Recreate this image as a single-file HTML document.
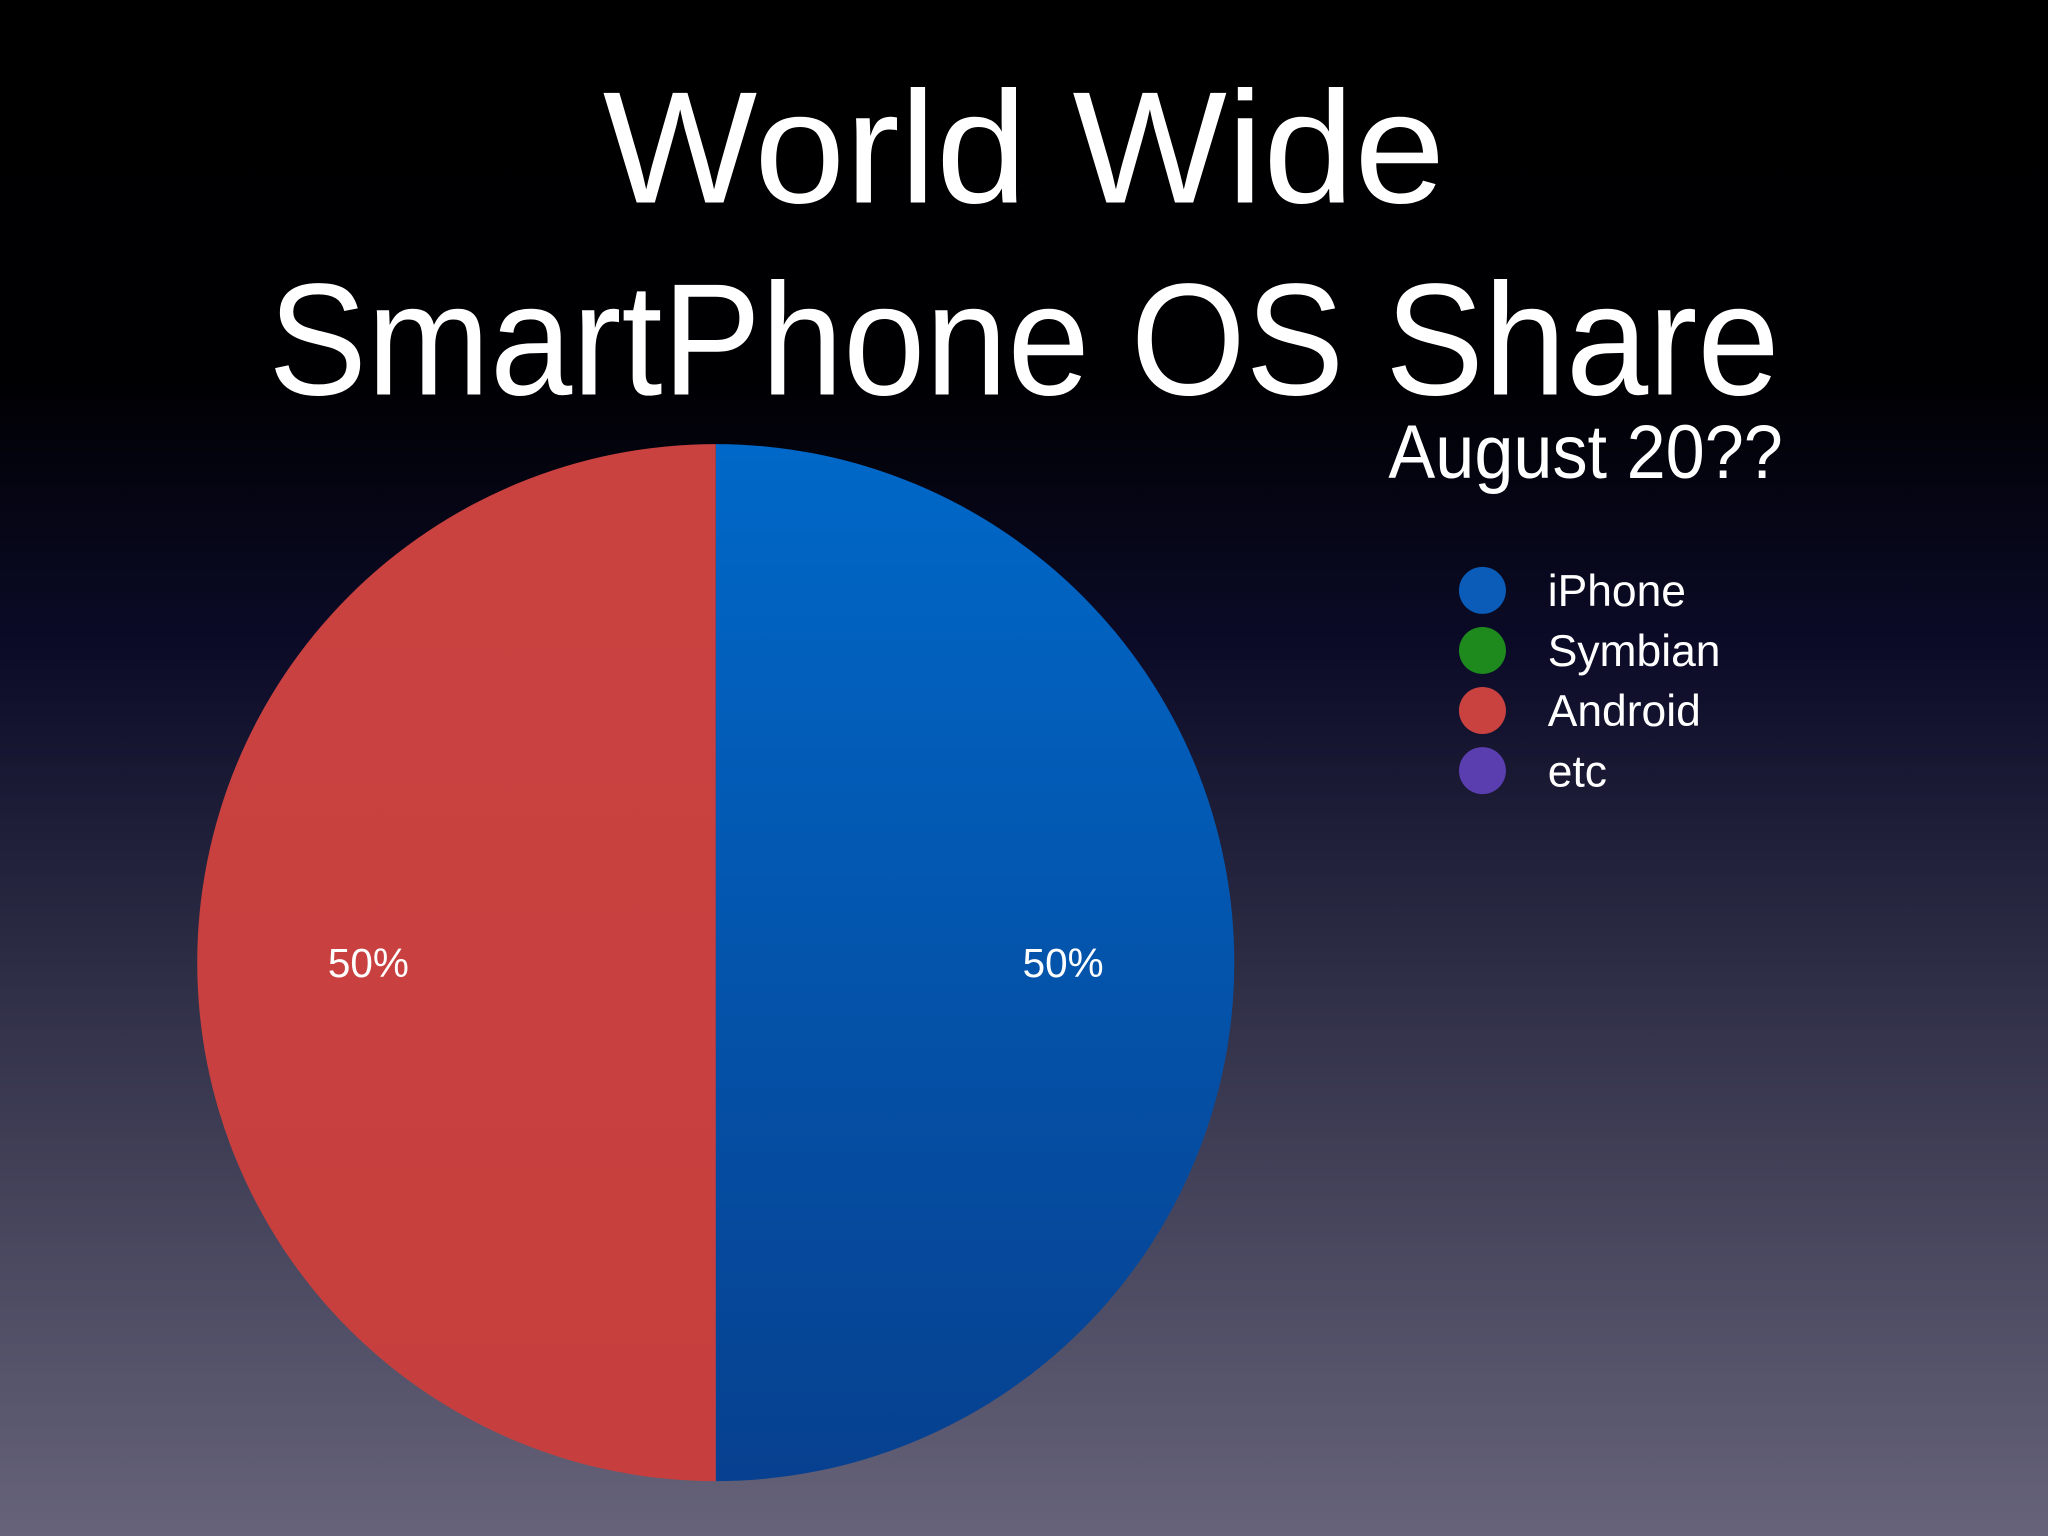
<!DOCTYPE html>
<html><head><meta charset="utf-8"><style>
html,body{margin:0;padding:0;background:#000;}
svg{display:block;}
</style></head><body>
<svg width="2048" height="1536" viewBox="0 0 1568 1176" xmlns="http://www.w3.org/2000/svg" font-family="'Liberation Sans', sans-serif">
<defs>
<linearGradient id="bg" x1="0" y1="0" x2="0" y2="1">
<stop offset="0" stop-color="#000000"/>
<stop offset="0.25" stop-color="#000003"/>
<stop offset="0.42" stop-color="#0b0b28"/>
<stop offset="0.65" stop-color="#303048"/>
<stop offset="1" stop-color="#66637a"/>
</linearGradient>
<linearGradient id="blueG" x1="0" y1="0" x2="0" y2="1">
<stop offset="0" stop-color="#0068c8"/>
<stop offset="1" stop-color="#07408f"/>
</linearGradient>
<linearGradient id="redG" x1="0" y1="0" x2="0" y2="1">
<stop offset="0" stop-color="#ca4240"/>
<stop offset="1" stop-color="#c63f3e"/>
</linearGradient>
<linearGradient id="greenG" x1="0" y1="0" x2="0" y2="1"><stop offset="0" stop-color="#2a9a2a"/><stop offset="1" stop-color="#1a7a1a"/></linearGradient>
<linearGradient id="purpleG" x1="0" y1="0" x2="0" y2="1"><stop offset="0" stop-color="#6a4cc0"/><stop offset="1" stop-color="#4a3296"/></linearGradient>
</defs>
<rect x="0" y="0" width="1568" height="1176" fill="url(#bg)"/>
<text x="784" y="155" text-anchor="middle" font-size="122" fill="#fff" textLength="645" lengthAdjust="spacingAndGlyphs">World Wide</text>
<text x="784" y="302" text-anchor="middle" font-size="122" fill="#fff" textLength="1157" lengthAdjust="spacingAndGlyphs">SmartPhone OS Share</text>
<text x="1365" y="366" text-anchor="end" font-size="58" fill="#fff" textLength="302" lengthAdjust="spacingAndGlyphs">August 20??</text>
<g id="pie"></g>
<g id="legend"></g>
</svg>
<script>
const categories = ["iPhone", "Symbian", "Android", "etc"];
const values = [50, 0, 50, 0];
const labels = ["50%", "", "50%", ""];
const fills = ["url(#blueG)", "url(#greenG)", "url(#redG)", "url(#purpleG)"];
const legendColors = ["#0a5cb8", "#1e8a1e", "#c94240", "#5a3eb0"];
const NS = "http://www.w3.org/2000/svg";
const cx = 548, cy = 737, r = 397;
const total = values.reduce((a, b) => a + b, 0);
const pie = document.getElementById("pie");
function pt(a, rr) { return [cx + rr * Math.sin(a), cy - rr * Math.cos(a)]; }
let acc = 0;
values.forEach((v, i) => {
  if (v <= 0) return;
  const a0 = acc / total * 2 * Math.PI;
  acc += v;
  const a1 = acc / total * 2 * Math.PI;
  const p0 = pt(a0, r), p1 = pt(a1, r);
  const large = (a1 - a0) > Math.PI ? 1 : 0;
  const path = document.createElementNS(NS, "path");
  path.setAttribute("d", `M${cx},${cy} L${p0[0]},${p0[1]} A${r},${r} 0 ${large} 1 ${p1[0]},${p1[1]} Z`);
  path.setAttribute("fill", fills[i]);
  
  
  pie.appendChild(path);
  const am = (a0 + a1) / 2;
  const lp = pt(am, r * 0.67);
  const t = document.createElementNS(NS, "text");
  t.setAttribute("x", lp[0]); t.setAttribute("y", lp[1] + 11);
  t.setAttribute("text-anchor", "middle");
  t.setAttribute("font-size", "31");
  t.setAttribute("fill", "#fff");
  t.setAttribute("style", "paint-order:stroke");
  t.textContent = labels[i];
  
  
  pie.appendChild(t);
});
const legend = document.getElementById("legend");
categories.forEach((c, i) => {
  const y = 452 + i * 46;
  const circ = document.createElementNS(NS, "circle");
  circ.setAttribute("cx", 1135); circ.setAttribute("cy", y); circ.setAttribute("r", 18);
  circ.setAttribute("fill", legendColors[i]);
  
  
  legend.appendChild(circ);
  const t = document.createElementNS(NS, "text");
  t.setAttribute("x", 1185); t.setAttribute("y", y + 12);
  t.setAttribute("font-size", "34");
  t.setAttribute("fill", "#fff");
  t.textContent = c;
  
  
  legend.appendChild(t);
});
</script>
</body></html>
